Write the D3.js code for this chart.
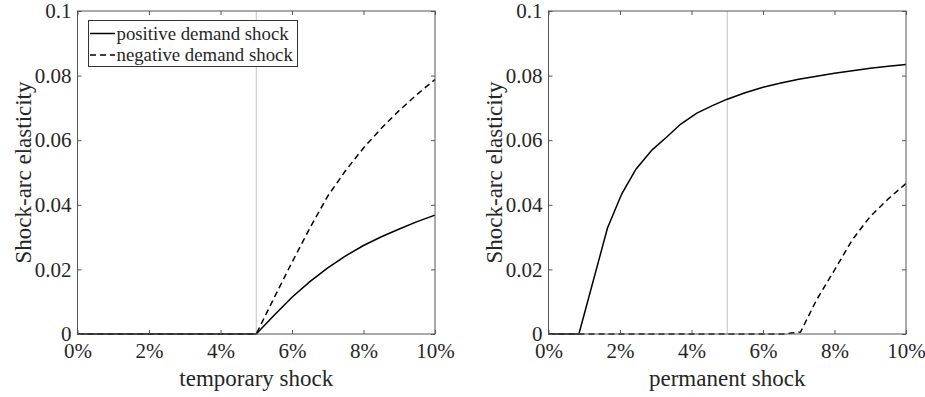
<!DOCTYPE html>
<html>
<head>
<meta charset="utf-8">
<script src="https://cdn.jsdelivr.net/npm/d3@7"></script>
<style>
  html, body { margin: 0; padding: 0; background: #fff; }
  svg { display: block; }
</style>
</head>
<body>
<svg id="chart" width="925" height="397"></svg>
<script>
// ---------------- data ----------------
const xTicks = [0, 2, 4, 6, 8, 10];            // shock size in %
const yTicks = [0, 0.02, 0.04, 0.06, 0.08, 0.1];
const yTickLabels = ["0", "0.02", "0.04", "0.06", "0.08", "0.1"];
const seriesNames = ["positive demand shock", "negative demand shock"];
const panelXLabels = ["temporary shock", "permanent shock"];
const yLabel = "Shock-arc elasticity";
const referenceLine = 5;                        // vertical marker at 5%

// temporary shock panel
const tempX   = [0, 1, 2, 3, 4, 5, 5.5, 6, 6.5, 7, 7.5, 8, 8.5, 9, 9.5, 10];
const tempPos = [0, 0, 0, 0, 0, 0, 0.0058, 0.0114, 0.0162, 0.0205, 0.0242, 0.0274, 0.0301, 0.0325, 0.0348, 0.0368];
const tempNeg = [0, 0, 0, 0, 0, 0, 0.0112, 0.0222, 0.0328, 0.0427, 0.0506, 0.0576, 0.0637, 0.0692, 0.0742, 0.0788];

// permanent shock panel
const permPosX = [0, 0.85, 1.65, 2.05, 2.45, 2.9, 3.3, 3.7, 4.15, 4.6, 5, 5.5, 6, 6.5, 7, 7.5, 8, 8.5, 9, 9.5, 10];
const permPos  = [0, 0, 0.0328, 0.0434, 0.0511, 0.0570, 0.0609, 0.0650, 0.0684, 0.0708, 0.0727, 0.0747, 0.0764, 0.0777, 0.0789, 0.0798, 0.0807, 0.0815, 0.0823, 0.0829, 0.0834];
const permNegX = [0, 1, 2, 3, 4, 5, 6, 6.6, 6.8, 7.05, 7.5, 8, 8.5, 9, 9.5, 10];
const permNeg  = [0, 0, 0, 0, 0, 0, 0, 0, 0.0003, 0.0006, 0.0106, 0.0198, 0.0292, 0.0364, 0.0418, 0.0466];

// ---------------- layout ----------------
const FONT = "'Liberation Serif', 'Times New Roman', Tinos, serif";
const TEXT_COLOR = "#262626";
const svg = d3.select("#chart");
const plotTop = 11, plotBottom = 334;
const panels = [
  { left: 77.5, right: 435, xLabel: panelXLabels[0], legend: true,
    series: [ {x: tempX, y: tempPos, dash: null}, {x: tempX, y: tempNeg, dash: "6,4"} ] },
  { left: 548.5, right: 906, xLabel: panelXLabels[1], legend: false,
    series: [ {x: permPosX, y: permPos, dash: null}, {x: permNegX, y: permNeg, dash: "6,4"} ] }
];

const axisColor = "#555";
const tickFont = 21, labelFont = 23, legendFont = 18.8;

panels.forEach(p => {
  const x = d3.scaleLinear().domain([0, 10]).range([p.left, p.right]);
  const y = d3.scaleLinear().domain([0, 0.1]).range([plotBottom, plotTop]);
  const g = svg.append("g");

  // reference line
  g.append("line")
    .attr("x1", x(referenceLine)).attr("x2", x(referenceLine))
    .attr("y1", y(0.1)).attr("y2", y(0))
    .attr("stroke", "#c4c4c4").attr("stroke-width", 1);

  // series
  const line = d3.line().x(d => x(d[0])).y(d => y(d[1]));
  p.series.forEach(s => {
    const pts = s.x.map((v, i) => [v, s.y[i]]);
    g.append("path").datum(pts)
      .attr("d", line)
      .attr("fill", "none")
      .attr("stroke", "#000")
      .attr("stroke-width", 1.5)
      .attr("stroke-dasharray", s.dash);
  });

  // axes (inward ticks on all sides)
  const xb = d3.axisBottom(x).tickValues(xTicks).tickFormat(d => d + "%").tickSizeInner(-4).tickSizeOuter(0).tickPadding(9);
  const xt = d3.axisTop(x).tickValues(xTicks).tickFormat("").tickSizeInner(-4).tickSizeOuter(0);
  const yl = d3.axisLeft(y).tickValues(yTicks).tickFormat((d, i) => yTickLabels[i]).tickSizeInner(-4).tickSizeOuter(0).tickPadding(6);
  const yr = d3.axisRight(y).tickValues(yTicks).tickFormat("").tickSizeInner(-4).tickSizeOuter(0);

  const styleAxis = sel => {
    sel.select(".domain").remove();
    sel.selectAll(".tick line").attr("stroke", axisColor);
    sel.selectAll(".tick text")
      .style("font-family", FONT)
      .style("font-size", tickFont + "px")
      .style("fill", TEXT_COLOR);
  };
  g.append("g").attr("transform", `translate(0,${plotBottom})`).call(xb).call(styleAxis);
  g.append("g").attr("transform", `translate(0,${plotTop})`).call(xt).call(styleAxis);
  g.append("g").attr("transform", `translate(${p.left},0)`).call(yl).call(styleAxis);
  g.append("g").attr("transform", `translate(${p.right},0)`).call(yr).call(styleAxis);

  // box
  g.append("rect")
    .attr("x", p.left).attr("y", plotTop)
    .attr("width", p.right - p.left).attr("height", plotBottom - plotTop)
    .attr("fill", "none").attr("stroke", axisColor).attr("stroke-width", 1);

  // axis labels
  g.append("text")
    .attr("x", (p.left + p.right) / 2).attr("y", 386)
    .attr("text-anchor", "middle")
    .style("font-family", FONT).style("font-size", labelFont + "px").style("fill", TEXT_COLOR)
    .text(p.xLabel);
  g.append("text")
    .attr("transform", `translate(${p.left - 46.5},${(plotTop + plotBottom) / 2}) rotate(-90)`)
    .attr("text-anchor", "middle")
    .style("font-family", FONT).style("font-size", labelFont + "px").style("fill", TEXT_COLOR)
    .text(yLabel);

  // legend
  if (p.legend) {
    const lg = g.append("g");
    lg.append("rect")
      .attr("x", 88.5).attr("y", 20.5).attr("width", 209).attr("height", 46)
      .attr("fill", "#fff").attr("stroke", "#333").attr("stroke-width", 1);
    const rows = [33.5, 55];
    seriesNames.forEach((name, i) => {
      lg.append("line")
        .attr("x1", 90).attr("x2", 115).attr("y1", rows[i]).attr("y2", rows[i])
        .attr("stroke", "#000").attr("stroke-width", 1.5)
        .attr("stroke-dasharray", p.series[i].dash);
      lg.append("text")
        .attr("x", 116.5).attr("y", rows[i] + 6)
        .style("font-family", FONT).style("font-size", legendFont + "px").style("fill", TEXT_COLOR)
        .text(name);
    });
  }
});
</script>
</body>
</html>
